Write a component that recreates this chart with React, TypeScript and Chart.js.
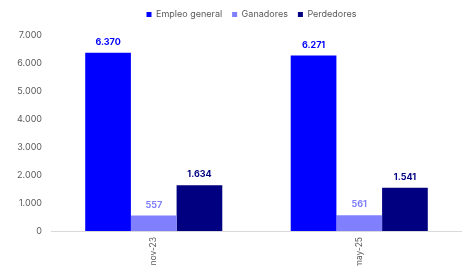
import React, { useEffect, useRef } from "react";
import { Chart, registerables } from "chart.js";

Chart.register(...registerables);

const categories = ["nov-23", "may-25"];
const empleoGeneral = [6370, 6271];
const ganadores = [557, 561];
const perdedores = [1634, 1541];
const yTicks = [0, 1000, 2000, 3000, 4000, 5000, 6000, 7000];

const FONT = "Inter, 'Noto Sans', sans-serif";
const fmt = (v: number) => String(Math.round(v)).replace(/\B(?=(\d{3})+(?!\d))/g, ".");

const dataLabels = {
  id: "dataLabels",
  afterDatasetsDraw(chart: any) {
    const ctx = chart.ctx;
    ctx.save();
    ctx.font = "bold 9px " + FONT;
    ctx.textAlign = "center";
    ctx.textBaseline = "bottom";
    chart.data.datasets.forEach((ds: any, i: number) => {
      const meta = chart.getDatasetMeta(i);
      meta.data.forEach((bar: any, j: number) => {
        ctx.fillStyle = ds.backgroundColor;
        ctx.fillText(fmt(ds.data[j]), bar.x, bar.y - 6);
      });
    });
    ctx.restore();
  },
};

const legendFix = {
  id: "legendFix",
  beforeLayout(chart: any) {
    const lg = chart.legend;
    if (lg && !lg._patched) {
      const orig = lg.fit.bind(lg);
      lg.fit = function () {
        orig();
        this.height += 6;
      };
      lg._patched = true;
    }
  },
  afterLayout(chart: any) {
    const lg = chart.legend;
    if (lg) {
      lg.left -= 5;
      lg.right -= 5;
    }
  },
};

export default function App() {
  const ref = useRef<HTMLCanvasElement>(null);
  useEffect(() => {
    document.body.style.margin = "0";
    const chart = new Chart(ref.current!, {
      type: "bar",
      data: {
        labels: categories,
        datasets: [
          { label: "Empleo general", data: empleoGeneral, backgroundColor: "#0000FF" },
          { label: "Ganadores", data: ganadores, backgroundColor: "#8080FF" },
          { label: "Perdedores", data: perdedores, backgroundColor: "#000080" },
        ],
      },
      options: {
        animation: false,
        responsive: false,
        layout: { padding: { left: 0, right: 0, top: 0, bottom: 0 } },
        datasets: { bar: { categoryPercentage: 0.667, barPercentage: 1 } } as any,
        plugins: {
          legend: {
            position: "top",
            fullSize: false,
            labels: {
              boxWidth: 5,
              boxHeight: 5,
              color: "#595959",
              font: { size: 9, family: FONT },
              padding: 10,
            },
          },
          tooltip: { enabled: false },
        },
        scales: {
          x: {
            grid: { display: false, drawTicks: false },
            border: { display: true, color: "#d9d9d9" },
            afterFit: (axis: any) => {
              axis.height = 35;
            },
            ticks: {
              minRotation: 90,
              maxRotation: 90,
              color: "#595959",
              padding: 6,
              font: { size: 8.5, family: FONT },
            },
          },
          y: {
            min: 0,
            max: 7000,
            grid: { display: false, drawTicks: false },
            border: { display: false },
            afterFit: (axis: any) => {
              axis.width = 51;
            },
            afterBuildTicks: (axis: any) => {
              axis.ticks = yTicks.map((v) => ({ value: v }));
            },
            ticks: {
              color: "#595959",
              padding: 9,
              font: { size: 9, family: FONT },
              callback: (v: any) => fmt(Number(v)),
            },
          },
        },
      },
      plugins: [dataLabels, legendFix],
    });
    return () => chart.destroy();
  }, []);
  return (
    <div style={{ width: 462, height: 266 }}>
      <canvas ref={ref} width={462} height={266} />
    </div>
  );
}
